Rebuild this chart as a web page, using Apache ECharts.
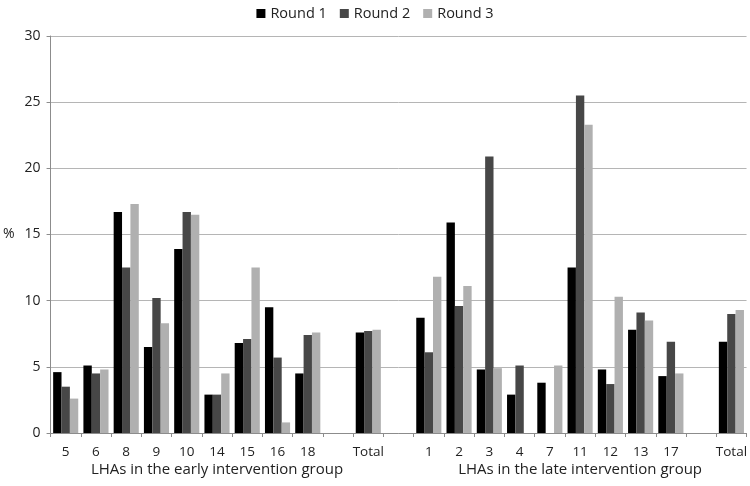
<!DOCTYPE html>
<html><head><meta charset="utf-8">
<script src="https://cdn.jsdelivr.net/npm/echarts@6/dist/echarts.min.js"></script>
<style>html,body{margin:0;padding:0;background:#fff}#c{width:750px;height:486px}</style>
</head><body><div id="c"></div>
<script>
const categories = ['5','6','8','9','10','14','15','16','18','','Total','','1','2','3','4','7','11','12','13','17','','Total'];
const round1 = [4.6,5.1,16.7,6.5,13.9,2.9,6.8,9.5,4.5,null,7.6,null,8.7,15.9,4.8,2.9,3.8,12.5,4.8,7.8,4.3,null,6.9];
const round2 = [3.5,4.5,12.5,10.2,16.7,2.9,7.1,5.7,7.4,null,7.7,null,6.1,9.6,20.9,5.1,0,25.5,3.7,9.1,6.9,null,9.0];
const round3 = [2.6,4.8,17.3,8.3,16.5,4.5,12.5,0.8,7.6,null,7.8,null,11.8,11.1,4.9,0,5.1,23.3,10.3,8.5,4.5,null,9.3];
const groupLabels = ['','','','','','LHAs in the early intervention group','','','','','','','','','','','','LHAs in the late intervention group','','','','',''];
const seriesNames = ['Round 1','Round 2','Round 3'];
const colors = ['#000000','#474747','#b0b0b0'];
const font = '"Open Sans", "Noto Sans", sans-serif';

const chart = echarts.init(document.getElementById('c'), null, {renderer:'canvas'});
chart.setOption({
  animation:false,
  textStyle:{fontFamily:font},
  legend:{
    top:1, left:'center', itemWidth:9, itemHeight:9, itemGap:13, icon:'rect',
    textStyle:{fontSize:14.5,color:'#222',fontFamily:font},
    data:seriesNames
  },
  grid:{left:50,right:2,top:36,bottom:53,containLabel:false},
  xAxis:[{
    type:'category', data:categories,
    axisLine:{lineStyle:{color:'#8c8c8c'}},
    axisTick:{show:true,length:4,lineStyle:{color:'#8c8c8c'}},
    axisLabel:{interval:0,fontSize:13.5,color:'#222',margin:12,fontFamily:font}
  },{
    type:'category', data:groupLabels, position:'bottom', offset:21,
    axisLine:{show:false}, axisTick:{show:false},
    axisLabel:{interval:0,fontSize:15,color:'#222',fontFamily:font}
  }],
  yAxis:{
    type:'value', min:0, max:30, interval:5,
    name:'%', nameLocation:'middle', nameRotate:0, nameGap:36,
    nameTextStyle:{fontSize:14,color:'#222',fontFamily:font,padding:[0,0,12,0]},
    axisLine:{show:true,lineStyle:{color:'#8c8c8c'}},
    axisTick:{show:true,length:4,lineStyle:{color:'#8c8c8c'}},
    axisLabel:{fontSize:14,color:'#222',margin:10,fontFamily:font},
    splitLine:{lineStyle:{color:'#b5b5b5'}}
  },
  series:[round1,round2,round3].map((d,i)=>({
    name:seriesNames[i], type:'bar', data:d, xAxisIndex:0,
    barGap:'0%', barCategoryGap:'17%',
    itemStyle:{color:colors[i]}
  }))
});
</script></body></html>
